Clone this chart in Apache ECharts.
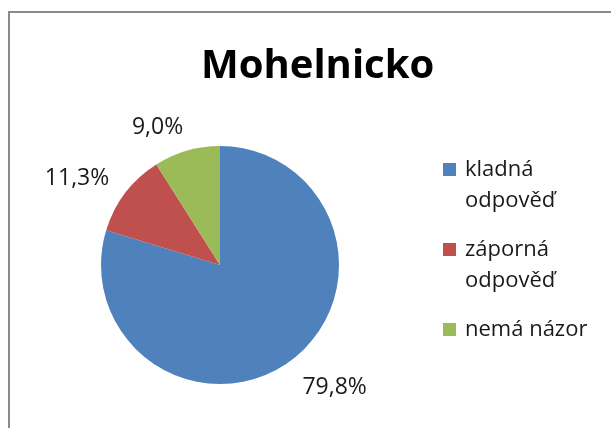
<!DOCTYPE html>
<html>
<head>
<meta charset="utf-8">
<title>Mohelnicko</title>
<script src="https://cdn.jsdelivr.net/npm/echarts@6/dist/echarts.min.js"></script>
<style>
  html, body {
    margin: 0;
    padding: 0;
    background: #fff;
  }

  #chart {
    width: 611px;
    height: 428px;
  }
</style>
</head>
<body>
<div id="chart"></div>
<script>
// data
const categories = ['kladná odpověď', 'záporná odpověď', 'nemá názor']
const values = [79.8, 11.3, 9.0]
const colors = ['#4F81BD', '#C0504D', '#9BBB59']

const font = '"Open Sans", "Noto Sans", sans-serif'

const myChart = echarts.init(document.getElementById('chart'))

// 图例文字统一三行：首行留空，这样方块对齐的是中间那一行(即文字第一行)
const legendFormatter = (name) => {
  if (name.indexOf(' odpověď') > -1) {
    return '\n' + name.replace(' odpověď', '\nodpověď')
  }
  return '\n' + name + '\n'
}

const option = {
  color: colors,
  animation: false,
  title: {
    text: 'Mohelnicko',
    left: 201,
    top: 47,
    padding: 0,
    textStyle: {
      fontFamily: font,
      fontSize: 40,
      fontWeight: 'bold',
      color: '#000'
    }
  },
  legend: {
    orient: 'vertical',
    left: 443,
    top: 123,
    padding: 0,
    itemGap: -13,
    itemWidth: 13,
    itemHeight: 13,
    icon: 'rect',
    selectedMode: false,
    data: categories,
    formatter: legendFormatter,
    textStyle: {
      fontFamily: font,
      fontSize: 22,
      lineHeight: 31,
      padding: [0, 0, 0, 4],
      color: '#1a1a1a'
    }
  },
  // 外框
  graphic: [{
    type: 'rect',
    silent: true,
    shape: {x: 9, y: 12, width: 700, height: 500},
    style: {fill: 'none', stroke: '#8a8a8a', lineWidth: 2}
  }],
  series: [{
    type: 'pie',
    center: [220, 265],
    radius: 119,
    startAngle: 90,
    clockwise: true,
    avoidLabelOverlap: false,
    emphasis: {disabled: true},
    itemStyle: {borderWidth: 0},
    label: {
      show: true,
      position: 'outside',
      fontFamily: font,
      fontSize: 23,
      color: '#1a1a1a',
      formatter: p => p.value.toFixed(1).replace('.', ',') + '%'
    },
    labelLine: {
      show: false,
      length: 24,
      length2: -8
    },
    // 大块的标签离得稍远一点
    data: categories.map((name, i) => ({
      name,
      value: values[i],
      labelLine: i === 0 ? {length: 33, length2: -13} : undefined
    }))
  }]
}

option && myChart.setOption(option)
</script>
</body>
</html>
